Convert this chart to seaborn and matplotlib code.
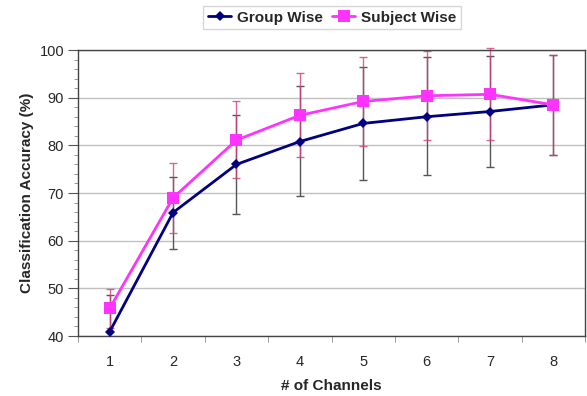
import numpy as np
import pandas as pd
import matplotlib
matplotlib.use('Agg')
import matplotlib.pyplot as plt
from matplotlib.ticker import MultipleLocator, FixedLocator
from matplotlib.transforms import Bbox, TransformedBbox
import seaborn as sns

channels = [1, 2, 3, 4, 5, 6, 7, 8]
group_mean = [40.9, 65.9, 76.0, 80.8, 84.6, 86.0, 87.1, 88.5]
group_low = [33.2, 58.3, 65.6, 69.3, 72.8, 73.7, 75.5, 77.9]
group_high = [48.6, 73.3, 86.4, 92.5, 96.5, 98.5, 98.7, 99.0]
subject_mean = [45.8, 69.0, 81.1, 86.3, 89.2, 90.4, 90.7, 88.5]
subject_low = [41.7, 61.6, 73.1, 77.5, 79.9, 81.2, 81.1, 77.9]
subject_high = [49.9, 76.3, 89.2, 95.2, 98.6, 99.7, 100.4, 99.0]

sns.set_style('white')
plt.rcParams['font.family'] = ['Liberation Sans', 'DejaVu Sans']

df = pd.DataFrame({
    'channels': channels * 2,
    'acc': group_mean + subject_mean,
    'method': ['Group Wise'] * 8 + ['Subject Wise'] * 8,
})

fig = plt.figure(figsize=(5.87, 3.96), dpi=100)
ax = fig.add_axes([0.1329, 0.1515, 0.8637, 0.7222])

# error bars first so lines sit on top
eb1 = ax.errorbar(channels, group_mean,
                  yerr=[np.subtract(group_mean, group_low), np.subtract(group_high, group_mean)],
                  fmt='none', ecolor='#555555', elinewidth=1, capsize=3, capthick=1, zorder=2)
eb2 = ax.errorbar(channels, subject_mean,
                  yerr=[np.subtract(subject_mean, subject_low), np.subtract(subject_high, subject_mean)],
                  fmt='none', ecolor='#d0407a', elinewidth=1, capsize=3, capthick=1, alpha=0.8, zorder=2)
# let bars poke out above the top of the plot, but not below the bottom
clip = TransformedBbox(Bbox([[0, 0], [1, 1.05]]), ax.transAxes)
for eb in (eb1, eb2):
    for art in eb.lines[1] + eb.lines[2]:
        art.set_clip_box(clip)

sns.lineplot(data=df, x='channels', y='acc', hue='method', style='method',
             palette={'Group Wise': '#000080', 'Subject Wise': '#ff33ff'},
             markers={'Group Wise': 'D', 'Subject Wise': 's'}, dashes=False,
             markersize=6, linewidth=2, markeredgewidth=0, ax=ax, zorder=3)
for ln in ax.get_lines():
    if ln.get_marker() == 'D':
        ln.set_markersize(5)
    elif ln.get_marker() == 's':
        ln.set_markersize(8)

ax.set_xlim(0.5, 8.5)
ax.set_ylim(40, 100)
ax.yaxis.set_major_locator(MultipleLocator(10))
ax.yaxis.set_minor_locator(MultipleLocator(2))
ax.set_xticks(channels)
ax.xaxis.set_minor_locator(FixedLocator(np.arange(0.5, 9.0, 1.0)))
ax.tick_params(axis='x', which='major', length=0, labelsize=10.5, pad=14)
ax.tick_params(axis='x', which='minor', length=4, color='#888888', direction='out', bottom=True)
ax.tick_params(axis='y', which='major', length=7, labelsize=10.5, direction='out', left=True,
               color='#555555', pad=3)
ax.tick_params(axis='y', which='minor', length=3, direction='out', left=True, color='#888888')
ax.grid(axis='y', which='major', color='#c0c0c0', linewidth=1)
ax.set_axisbelow(True)
for s in ax.spines.values():
    s.set_color('#444444')
    s.set_linewidth(1)

ax.set_xlabel('# of Channels', fontsize=11, fontweight='bold', labelpad=7)
ax.set_ylabel('Classification Accuracy (%)', fontsize=11, fontweight='bold', labelpad=4)

handles, labels = ax.get_legend_handles_labels()
ax.legend_.remove()
leg = fig.legend(handles, labels, loc='center', bbox_to_anchor=(0.566, 0.955), ncol=2,
                 frameon=True, fancybox=False, edgecolor='#cccccc', handlelength=1.5,
                 columnspacing=0.6, handletextpad=0.4, borderpad=0.3,
                 prop={'weight': 'bold', 'size': 11})

fig.savefig('out.png', dpi=100)
